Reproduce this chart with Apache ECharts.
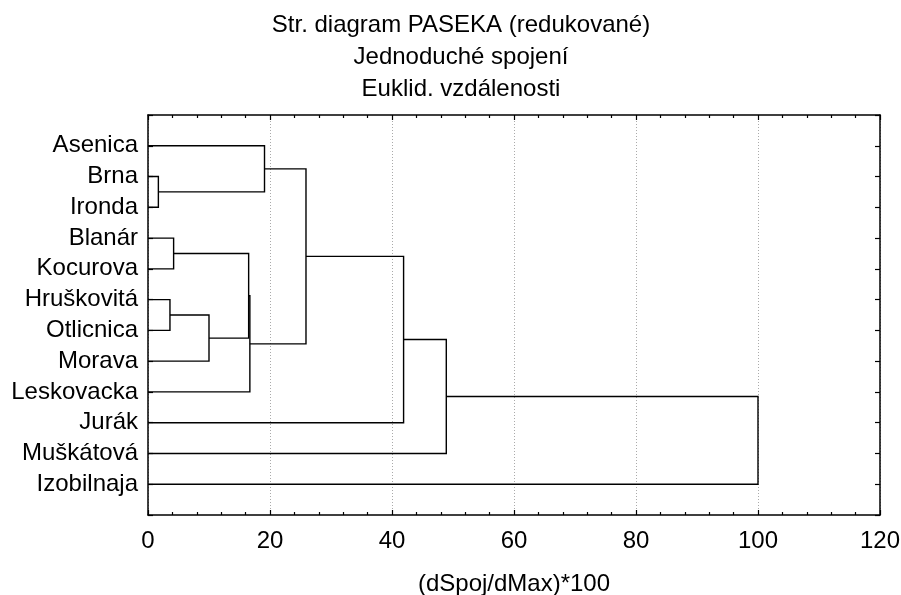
<!DOCTYPE html>
<html>
<head>
<meta charset="utf-8">
<script src="https://cdn.jsdelivr.net/npm/echarts@6/dist/echarts.min.js"></script>
<style>
html,body{margin:0;padding:0;background:#fff;}
#chart{width:901px;height:595px;}
</style>
</head>
<body>
<div id="chart"></div>
<script>
// Leaves, top to bottom
var leaves = ['Asenica','Brna','Ironda','Blanár','Kocurova','Hruškovitá','Otlicnica','Morava','Leskovacka','Jurák','Muškátová','Izobilnaja'];
// Linkage: cluster ids 0..11 are leaves, new clusters get ids 12, 13, ...
var mergeA = [1, 5, 3, 13, 14, 16, 0, 18, 19, 20, 21];
var mergeB = [2, 6, 4, 7, 15, 8, 12, 17, 9, 10, 11];
var mergeHeight = [1.7, 3.6, 4.2, 10.0, 16.5, 16.7, 19.1, 25.9, 41.9, 48.9, 100];
var xTicks = [0, 20, 40, 60, 80, 100, 120];
var titleLines = ['Str. diagram PASEKA (redukované)', 'Jednoduché spojení', 'Euklid. vzdálenosti'];
var xName = '(dSpoj/dMax)*100';

var FONT = '"Liberation Sans", Arial, sans-serif';
var FS = 24;

// derived node positions
var nodeH = [], nodeY = [];
for (var i = 0; i < leaves.length; i++) { nodeH.push(0); nodeY.push(i + 1); }
var segData = [];
for (var k = 0; k < mergeHeight.length; k++) {
  var a = mergeA[k], b = mergeB[k], h = mergeHeight[k];
  segData.push([nodeH[a], nodeY[a], nodeH[b], nodeY[b], h]);
  nodeH.push(h);
  nodeY.push((nodeY[a] + nodeY[b]) / 2);
}

var chart = echarts.init(document.getElementById('chart'), null, {renderer: 'canvas'});
var axisLine = {show: true, onZero: false, lineStyle: {color: '#000', width: 1.5}};
chart.setOption({
  backgroundColor: '#fff',
  animation: false,
  title: {
    text: titleLines.join('\n'),
    left: 456, top: 4, textAlign: 'center',
    textStyle: {fontFamily: FONT, fontSize: FS, fontWeight: 'normal', color: '#000', lineHeight: 32}
  },
  grid: {left: 148, right: 21, top: 115, bottom: 80, containLabel: false, outerBoundsMode: 'none'},
  xAxis: [{
    type: 'value', min: xTicks[0], max: xTicks[xTicks.length - 1], interval: 20, position: 'bottom',
    axisLine: axisLine,
    axisTick: {show: true, inside: true, length: 5, lineStyle: {color: '#000', width: 1.2}},
    minorTick: {show: true, splitNumber: 5, length: 3, lineStyle: {color: '#000', width: 1.2}},
    axisLabel: {fontFamily: FONT, fontSize: FS, color: '#000', margin: 14},
    splitLine: {show: true, lineStyle: {color: '#aaa', type: [1, 2], width: 1}},
    name: xName, nameLocation: 'middle', nameGap: 57,
    nameTextStyle: {fontFamily: FONT, fontSize: FS, color: '#000'}
  }, {
    type: 'value', min: xTicks[0], max: xTicks[xTicks.length - 1], interval: 20, position: 'top',
    axisLine: axisLine,
    axisTick: {show: true, inside: true, length: 5, lineStyle: {color: '#000', width: 1.2}},
    minorTick: {show: true, splitNumber: 5, length: 3, lineStyle: {color: '#000', width: 1.2}},
    axisLabel: {show: false}, splitLine: {show: false}
  }],
  yAxis: [{
    type: 'value', min: 0, max: leaves.length + 1, interval: 1, inverse: true, position: 'left',
    axisLine: axisLine,
    axisTick: {show: true, inside: true, length: 5, lineStyle: {color: '#000', width: 1.2}},
    axisLabel: {fontFamily: FONT, fontSize: FS, color: '#000', margin: 10,
      formatter: function (v) { return leaves[v - 1] || ''; }},
    splitLine: {show: false}
  }, {
    type: 'value', min: 0, max: leaves.length + 1, interval: 1, inverse: true, position: 'right',
    axisLine: axisLine,
    axisTick: {show: true, inside: true, length: 5, lineStyle: {color: '#000', width: 1.2}},
    axisLabel: {show: false}, splitLine: {show: false}
  }],
  series: [{
    type: 'custom',
    xAxisIndex: 0, yAxisIndex: 0,
    data: segData,
    renderItem: function (params, api) {
      var p1 = api.coord([api.value(0), api.value(1)]);
      var p2 = api.coord([api.value(4), api.value(1)]);
      var p3 = api.coord([api.value(4), api.value(3)]);
      var p4 = api.coord([api.value(2), api.value(3)]);
      return {
        type: 'polyline',
        shape: {points: [p1, p2, p3, p4]},
        style: {stroke: '#000', lineWidth: 1.4, fill: null}
      };
    },
    silent: true
  }]
});
</script>
</body>
</html>
